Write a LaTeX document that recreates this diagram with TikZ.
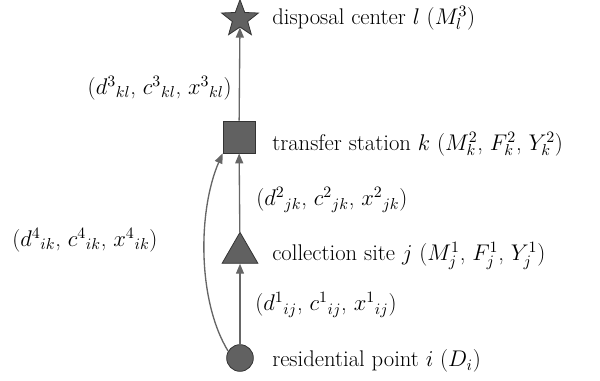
\RequirePackage{fix-cm}
\documentclass[tikz,border=0pt]{standalone}
\usetikzlibrary{arrows.meta,shapes.geometric}

\begin{document}
\begin{tikzpicture}[x=0.75pt, y=-0.75pt,
  sym/.style={draw=black!80, fill=black!62, line width=0.6pt, inner sep=0pt},
  lbl/.style={anchor=west, font=\fontsize{17}{21}\selectfont, inner sep=0pt},
  flow/.style={draw=black!60, line width=1pt, -{Triangle[length=7.5pt,width=6pt]}}]
\useasboundingbox (0,0) rectangle (600,381);
\node[sym, star, star points=5, star point ratio=2.4, minimum size=29pt] (disp) at (240,19) {};
\node[sym, rectangle, minimum size=24pt] (trans) at (239,137) {};
\node[sym, regular polygon, regular polygon sides=3, minimum size=31pt] (coll) at (240,253) {};
\node[sym, circle, minimum size=20pt] (res) at (240,358) {};
\foreach \a/\b in {res/coll, coll/trans, trans/disp}{
  \draw[flow] (\a) -- (\b);}
\draw[flow] (res.150) .. controls (197,300) and (198,210) .. (trans.south west);
\node[lbl] (tdisp) at (272,18) {disposal center $l$ ($M_l^3$)};
\node[lbl] (ttrans) at (272,144) {transfer station $k$ ($M_k^2$, $F_k^2$, $Y_k^2$)};
\node[lbl] (tcoll) at (272,256) {collection site $j$ ($M_j^1$, $F_j^1$, $Y_j^1$)};
\node[lbl] (tres) at (272,361) {residential point $i$ ($D_i$)};
\node[lbl, anchor=east] (e3) at (232,88) {($d^3{}_{kl}$, $c^3{}_{kl}$, $x^3{}_{kl}$)};
\node[lbl] (e2) at (256,200) {($d^2{}_{jk}$, $c^2{}_{jk}$, $x^2{}_{jk}$)};
\node[lbl] (e4) at (12,240) {($d^4{}_{ik}$, $c^4{}_{ik}$, $x^4{}_{ik}$)};
\node[lbl] (e1) at (255,305) {($d^1{}_{ij}$, $c^1{}_{ij}$, $x^1{}_{ij}$)};
\end{tikzpicture}
\end{document}
